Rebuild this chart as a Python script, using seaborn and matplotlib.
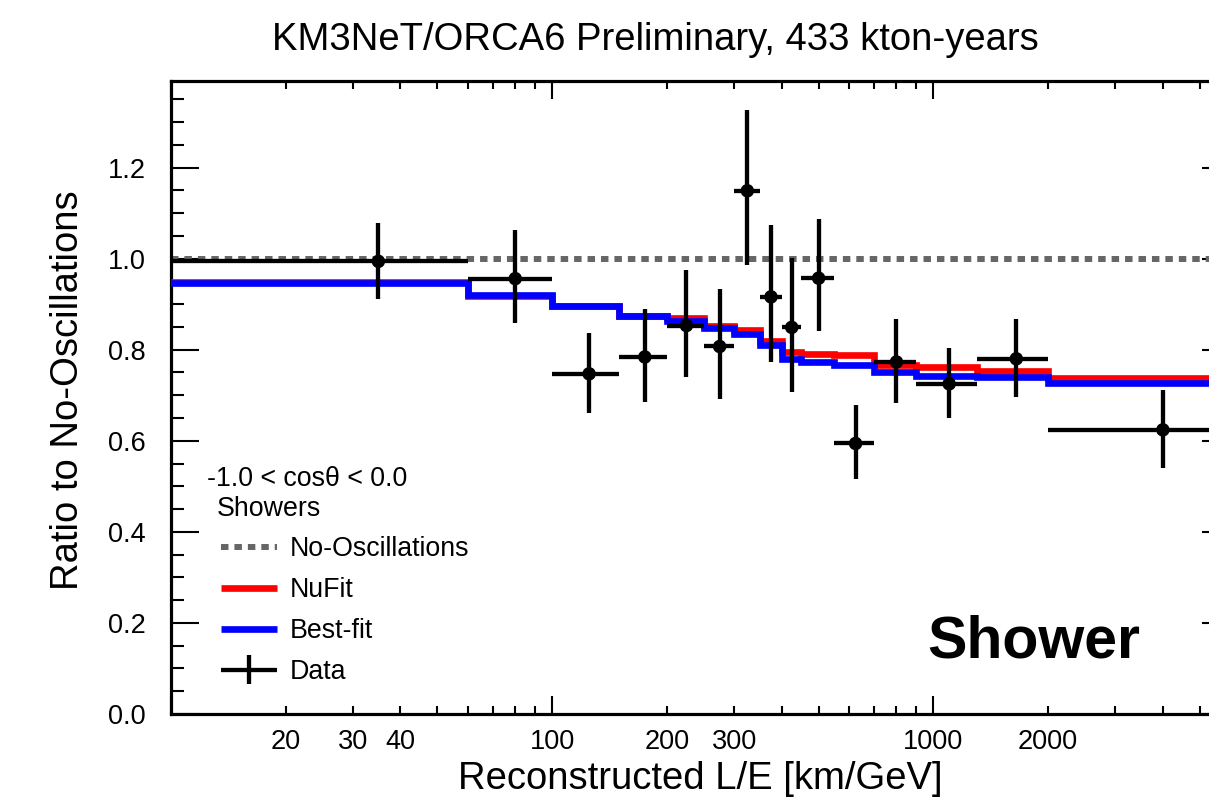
import numpy as np
import pandas as pd
import matplotlib
matplotlib.use("Agg")
import matplotlib.pyplot as plt
import seaborn as sns
from matplotlib.ticker import FixedLocator, FuncFormatter, MultipleLocator
from matplotlib.container import ErrorbarContainer
from matplotlib.legend_handler import HandlerErrorbar

# ---------------- data ----------------
bin_edges = [10, 60, 100, 150, 200, 250, 300, 350, 400, 450, 550, 700, 900, 1300, 2000, 6000]
data_ratio = [0.994, 0.956, 0.747, 0.784, 0.853, 0.807, 1.149, 0.916, 0.849, 0.957,
              0.594, 0.773, 0.725, 0.780, 0.624]
data_err_up = [0.084, 0.106, 0.090, 0.105, 0.123, 0.127, 0.178, 0.157, 0.153, 0.129,
               0.084, 0.094, 0.079, 0.087, 0.088]
data_err_down = [0.083, 0.097, 0.086, 0.098, 0.112, 0.115, 0.162, 0.142, 0.141, 0.117,
                 0.078, 0.089, 0.075, 0.084, 0.083]
nufit_ratio = [0.948, 0.917, 0.895, 0.874, 0.870, 0.851, 0.843, 0.818, 0.794, 0.790,
               0.788, 0.767, 0.763, 0.753, 0.737]
bestfit_ratio = [0.947, 0.919, 0.897, 0.875, 0.862, 0.848, 0.835, 0.811, 0.780, 0.772,
                 0.766, 0.751, 0.742, 0.740, 0.726]
no_osc_ratio = 1.0

x_major_ticks = [10, 100, 1000]
x_minor_ticks = [20, 30, 40, 50, 60, 70, 80, 90, 200, 300, 400, 500, 600, 700, 800, 900,
                 2000, 3000, 4000, 5000]
x_labelled = [20, 30, 40, 100, 200, 300, 1000, 2000]

title_text = "KM3NeT/ORCA6 Preliminary, 433 kton-years"
x_title = "Reconstructed L/E [km/GeV]"
y_title = "Ratio to No-Oscillations"
legend_labels = ["No-Oscillations", "NuFit", "Best-fit", "Data"]

# ---------------- style ----------------
sns.set_theme(style="ticks")
plt.rcParams["font.family"] = ["Liberation Sans", "DejaVu Sans"]
plt.rcParams["text.color"] = "black"
plt.rcParams["axes.labelcolor"] = "black"
plt.rcParams["xtick.color"] = "black"
plt.rcParams["ytick.color"] = "black"

W, H = 1209, 801
fig = plt.figure(figsize=(W / 100, H / 100), dpi=100)
fig.patch.set_facecolor("white")
ax = fig.add_axes([171 / W, 1 - 714 / H, 1059 / W, 633 / H])
ax.set_facecolor("white")

edges = np.array(bin_edges, dtype=float)
lo, hi = edges[:-1], edges[1:]
centers = 0.5 * (lo + hi)
half_w = 0.5 * (hi - lo)

df_model = pd.DataFrame({
    "edge": edges,
    "NuFit": nufit_ratio + [nufit_ratio[-1]],
    "Best-fit": bestfit_ratio + [bestfit_ratio[-1]],
})

# no-oscillations reference
noosc = ax.axhline(no_osc_ratio, color="#666666", lw=4.3,
                   linestyle=(0, (1.25, 1.0)), dash_capstyle="butt", zorder=2)

sns.lineplot(data=df_model, x="edge", y="NuFit", drawstyle="steps-post", color="#ff0000",
             lw=4.8, estimator=None, sort=False, ax=ax, zorder=3,
             solid_joinstyle="miter", solid_capstyle="butt")
red_line = ax.lines[-1]
sns.lineplot(data=df_model, x="edge", y="Best-fit", drawstyle="steps-post", color="#0000ff",
             lw=4.8, estimator=None, sort=False, ax=ax, zorder=4,
             solid_joinstyle="miter", solid_capstyle="butt")
blue_line = ax.lines[-1]

err = ax.errorbar(centers, data_ratio, xerr=half_w,
                  yerr=[data_err_down, data_err_up], fmt="none",
                  ecolor="black", elinewidth=3.1, capsize=0, zorder=5)
sns.scatterplot(x=centers, y=data_ratio, color="black", s=95, edgecolor="none",
                zorder=6, ax=ax, legend=False)

# ---------------- axes ----------------
ax.set_xscale("log")
ax.set_xlim(edges[0], edges[-1])
ax.set_ylim(0, 1.39)

ax.xaxis.set_major_locator(FixedLocator(x_major_ticks))
ax.xaxis.set_minor_locator(FixedLocator(x_minor_ticks))
fmt = FuncFormatter(lambda v, p: (f"{int(round(v))}" if int(round(v)) in x_labelled else ""))
ax.xaxis.set_major_formatter(fmt)
ax.xaxis.set_minor_formatter(fmt)
ax.yaxis.set_major_locator(MultipleLocator(0.2))
ax.yaxis.set_minor_locator(MultipleLocator(0.05))
ax.yaxis.set_major_formatter(FuncFormatter(lambda v, p: f"{v:.1f}"))

ax.tick_params(axis="both", which="both", direction="in", top=True, right=True,
               bottom=True, left=True, color="black", labelcolor="black")
ax.tick_params(axis="y", which="major", length=20, width=1.5, labelsize=19.5, pad=18)
ax.tick_params(axis="y", which="minor", length=9.5, width=1.5)
ax.tick_params(axis="x", which="major", length=13, width=1.5, labelsize=19.5, pad=11)
ax.tick_params(axis="x", which="minor", length=6, width=1.5, labelsize=19.5, pad=11)

for s in ax.spines.values():
    s.set_linewidth(2.3)
    s.set_color("black")
    s.set_visible(True)

ax.set_xlabel(x_title, fontsize=27.5, color="black")
ax.xaxis.set_label_coords(0.5, -0.074)
ax.set_ylabel(y_title, fontsize=27.5, color="black")
ax.yaxis.set_label_coords(-0.080, 0.512)

fig.text(655 / W, 1 - 40 / H, title_text, ha="center", va="center", fontsize=27.5,
         color="black")

# ---------------- legend ----------------
fig.text(207 / W, 1 - 486 / H, "-1.0 < cos\u03b8 < 0.0", ha="left", va="baseline",
         fontsize=19.3, color="black")
fig.text(217 / W, 1 - 516 / H, "Showers", ha="left", va="baseline", fontsize=19.3,
         color="black")

leg = ax.legend([noosc, red_line, blue_line, err], legend_labels,
                loc="upper left", bbox_to_anchor=(221 / W, 1 - 536 / H),
                bbox_transform=fig.transFigure, frameon=False, fontsize=19.3,
                handlelength=2.1, handletextpad=0.45, labelspacing=0.56,
                borderpad=0, borderaxespad=0,
                handler_map={ErrorbarContainer: HandlerErrorbar(xerr_size=1.05, yerr_size=0.55)})
for t in leg.get_texts():
    t.set_color("black")

fig.text(927 / W, 1 - 657 / H, "Shower", ha="left", va="baseline",
         fontsize=42.5, fontweight="bold", color="black")

fig.savefig("out.png", dpi=100, facecolor="white")
